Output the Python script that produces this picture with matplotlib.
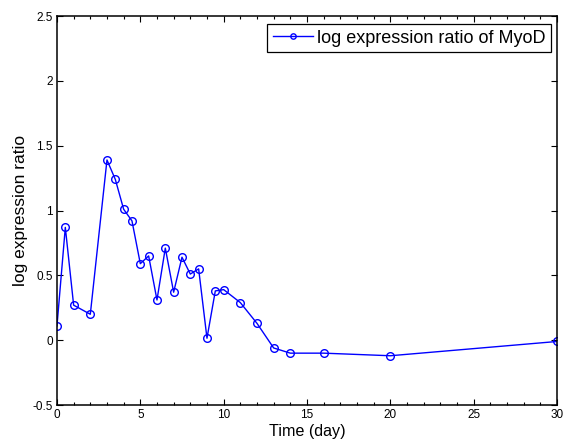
import matplotlib
matplotlib.use("Agg")
import matplotlib.pyplot as plt
from matplotlib.ticker import MultipleLocator

plt.rcParams['font.family'] = ['Liberation Sans', 'DejaVu Sans']

# time points (day) and log expression ratio of MyoD
days = [0, 0.5, 1, 2, 3, 3.5, 4, 4.5, 5, 5.5, 6, 6.5, 7, 7.5, 8, 8.5,
        9, 9.5, 10, 11, 12, 13, 14, 16, 20, 30]
ratio = [0.11, 0.87, 0.27, 0.20, 1.39, 1.24, 1.01, 0.92, 0.59, 0.65,
         0.31, 0.71, 0.37, 0.64, 0.51, 0.55, 0.015, 0.38, 0.39, 0.29,
         0.13, -0.06, -0.10, -0.10, -0.12, -0.01]

xticks = [0, 5, 10, 15, 20, 25, 30]
yticks = [-0.5, 0, 0.5, 1, 1.5, 2, 2.5]
ytick_labels = ['-0.5', '0', '0.5', '1', '1.5', '2', '2.5']

fig = plt.figure(figsize=(5.63, 4.4), dpi=100)
ax = fig.add_axes([0.1012, 0.0795, 0.8881, 0.8841])

ax.plot(days, ratio, '-o', color='blue', linewidth=1.0, markersize=5.5,
        markerfacecolor='none', markeredgewidth=1.0,
        label='log expression ratio of MyoD')

ax.set_xlim(0, 30)
ax.set_ylim(-0.5, 2.5)
ax.set_xticks(xticks)
ax.set_yticks(yticks)
ax.set_yticklabels(ytick_labels)
ax.xaxis.set_minor_locator(MultipleLocator(1))
ax.tick_params(which='both', direction='in', top=True, right=True,
               labelsize=8.5, pad=3)
ax.tick_params(which='major', length=4, width=0.8)
ax.tick_params(which='minor', length=2, width=0.8)
for s in ax.spines.values():
    s.set_linewidth(1.1)

ax.set_xlabel('Time (day)', fontsize=11.6, labelpad=2)
ax.set_ylabel('log expression ratio', fontsize=12.5, labelpad=3)

leg = ax.legend(loc='upper right', bbox_to_anchor=(0.988, 0.979),
                borderaxespad=0, fontsize=13, fancybox=False,
                framealpha=1, edgecolor='black', handlelength=2.2,
                borderpad=0.3, handletextpad=0.25, markerscale=0.7)
leg.get_frame().set_linewidth(0.9)

fig.savefig('out.png', dpi=100)
